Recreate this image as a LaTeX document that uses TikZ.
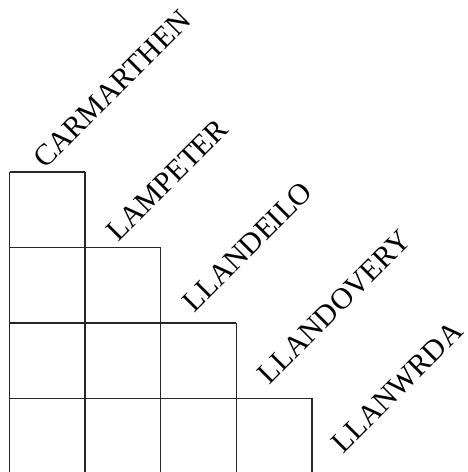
\documentclass[tikz,border=0pt]{standalone}
\usepackage{fontspec}
\setmainfont{Liberation Serif}
\begin{document}
\begin{tikzpicture}[x=1pt,y=1pt,
  gridline/.style={line width=1.4pt, draw=black!85},
  town/.style={rotate=45, anchor=base west, inner sep=0pt, font=\fontsize{30}{30}\selectfont}]
\useasboundingbox (0,0) rectangle (467,472);
\clip (0,0) rectangle (467,472);
% grid corners
\foreach \i in {0,...,4} {
  \coordinate (x\i) at ({9.5+75.6*\i},0);
}
% row tops (tikz coords)
\coordinate (r0) at (0,300);
\coordinate (r1) at (0,224.5);
\coordinate (r2) at (0,149);
\coordinate (r3) at (0,73.5);
% horizontal lines
\draw[gridline] (x0 |- r0) -- (x1 |- r0);
\draw[gridline] (x0 |- r1) -- (x2 |- r1);
\draw[gridline] (x0 |- r2) -- (x3 |- r2);
\draw[gridline] (x0 |- r3) -- (x4 |- r3);
% vertical lines
\draw[gridline] (x0 |- r0) -- ++(0,-320);
\draw[gridline] (x1 |- r0) -- ++(0,-320);
\draw[gridline] (x2 |- r1) -- ++(0,-320);
\draw[gridline] (x3 |- r2) -- ++(0,-320);
\draw[gridline] (x4 |- r3) -- ++(0,-320);
% labels
\node[town] (carmarthen) at (45,302) {CARMARTHEN};
\node[town] (lampeter) at (118,229) {LAMPETER};
\node[town] (llandeilo) at (194,158) {LLANDEILO};
\node[town] (llandovery) at (269,86) {LLANDOVERY};
\node[town] (llanwrda) at (343,17) {LLANWRDA};
\end{tikzpicture}
\end{document}
